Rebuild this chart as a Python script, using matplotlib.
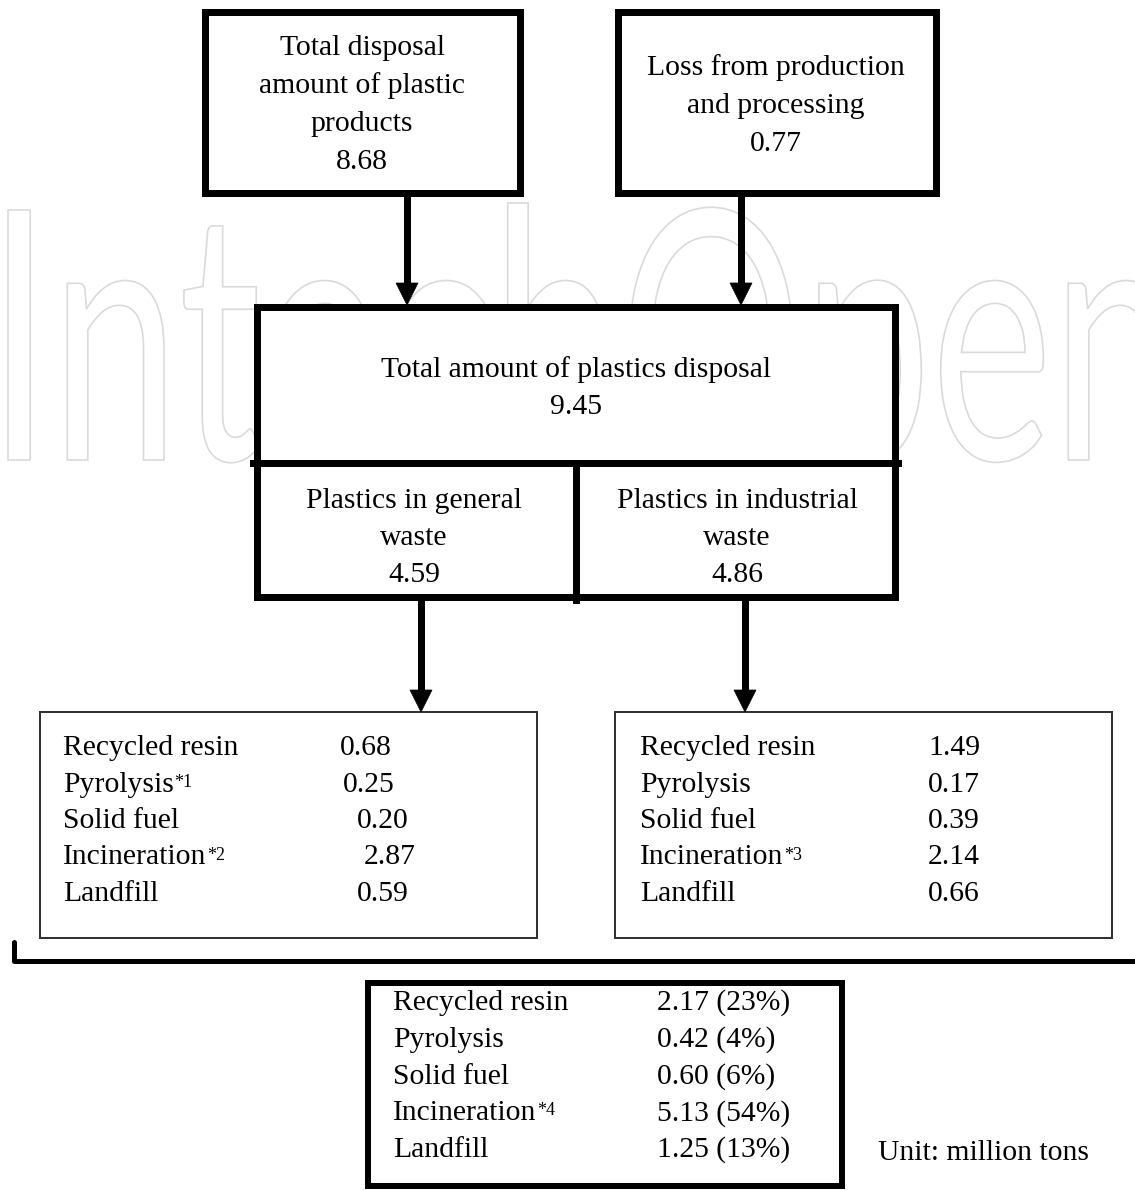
import matplotlib
matplotlib.use('Agg')
import matplotlib.pyplot as plt
from matplotlib.patches import Rectangle, Polygon, PathPatch
from matplotlib.textpath import TextPath
from matplotlib.font_manager import FontProperties
from matplotlib.transforms import Affine2D

plt.rcParams['font.family'] = ['Liberation Serif', 'DejaVu Serif']

#%% data
src_labels = [['Total disposal', 'amount of plastic', 'products'],
              ['Loss from production', 'and processing']]
src_vals = [8.68, 0.77]
total_label = 'Total amount of plastics disposal'
total_val = 9.45
split_labels = [['Plastics in general', 'waste'],
                ['Plastics in industrial', 'waste']]
split_vals = [4.59, 4.86]
items = ['Recycled resin', 'Pyrolysis', 'Solid fuel', 'Incineration', 'Landfill']
gen_notes = ['', '1', '', '2', '']
gen_vals = [0.68, 0.25, 0.20, 2.87, 0.59]
ind_notes = ['', '', '', '3', '']
ind_vals = [1.49, 0.17, 0.39, 2.14, 0.66]
sum_notes = ['', '', '', '4', '']
sum_vals = [2.17, 0.42, 0.60, 5.13, 1.25]
sum_pct = [23, 4, 6, 54, 13]
unit_text = 'Unit: million tons'
watermark = 'IntechOpen'

FS = 21.3
PX = 0.72  # points per pixel at dpi 100

fig = plt.figure(figsize=(11.35, 11.9), dpi=100)
ax = fig.add_axes([0, 0, 1, 1])
ax.set_xlim(0, 1135)
ax.set_ylim(1190, 0)
ax.axis('off')


def box(x0, y0, x1, y1, lw, ec='black'):
    ax.add_patch(Rectangle((x0, y0), x1 - x0, y1 - y0, fc='white', ec=ec,
                           lw=lw * PX, zorder=2))


def arrow(x, y0, y1):
    ax.plot([x, x], [y0, y1 - 20], color='black', lw=7 * PX, zorder=3,
            solid_capstyle='butt')
    ax.add_patch(Polygon([(x - 11, y1 - 22), (x + 11, y1 - 22), (x, y1)],
                         closed=True, fc='black', ec='black', lw=0.5, zorder=3))


def lines(x, baselines, texts):
    for y, t in zip(baselines, texts):
        ax.text(x, y, t, ha='center', va='baseline', fontsize=FS, zorder=4)


def table(x_lab, x_vals, y0, step, labels, notes, vals):
    for i, (lab, note, v) in enumerate(zip(labels, notes, vals)):
        y = y0 + i * step
        t = ax.text(x_lab, y, lab, ha='left', va='baseline', fontsize=FS, zorder=4)
        if note:
            ax.annotate('*' + note, xy=(1.0, 0.92), xycoords=t,
                        xytext=(0.5, 0), textcoords='offset points',
                        ha='left', va='top', fontsize=13, zorder=4)
        ax.text(x_vals[i], y, v, ha='left', va='baseline', fontsize=FS, zorder=4)


#%% watermark
fp = FontProperties(family='Lato')
tp = TextPath((0, 0), watermark, size=100, prop=fp)
cap = TextPath((0, 0), 'I', size=100, prop=fp).get_extents()
ext = tp.get_extents()
sx = (1165 - 8) / ext.width
sy = (460 - 210) / cap.height
tr = Affine2D().translate(-ext.x0, 0).scale(sx, -sy).translate(8, 460)
ax.add_patch(PathPatch(tr.transform_path(tp), fc='none', ec='#dadada',
                       lw=1.2, zorder=0))

#%% top boxes
box(204.5, 11.5, 519.5, 192.5, 7)
box(617.5, 11.5, 935.5, 192.5, 7)
lines(362, [55, 93, 131, 169], src_labels[0] + ['%.2f' % src_vals[0]])
lines(776, [75, 113, 151], src_labels[1] + ['%.2f' % src_vals[1]])

arrow(407, 196, 305)
arrow(741, 196, 305)

#%% central box
box(256.5, 306.5, 894.5, 596.5, 7)
ax.plot([253, 898], [463, 463], color='black', lw=7 * PX, zorder=3)
ax.plot([576, 576], [463, 600], color='black', lw=7 * PX, zorder=3)
lines(576, [377, 414], [total_label, '%.2f' % total_val])
lines(414, [508, 545, 582], split_labels[0] + ['%.2f' % split_vals[0]])
lines(737, [508, 545, 582], split_labels[1] + ['%.2f' % split_vals[1]])

arrow(421, 600, 712)
arrow(745, 600, 712)

#%% treatment boxes
box(40, 712, 537, 938, 2, ec='#333333')
box(615, 712, 1112, 938, 2, ec='#333333')
table(63, [340, 343, 357, 364, 357], 755, 36.5, items, gen_notes,
      ['%.2f' % v for v in gen_vals])
table(640, [928] * 5, 755, 36.5, items, ind_notes,
      ['%.2f' % v for v in ind_vals])

# bracket
ax.plot([14, 14, 1140], [942, 961, 961], color='black', lw=5 * PX,
        solid_joinstyle='round', solid_capstyle='round', zorder=3)

#%% summary box
box(368, 983, 842, 1186, 6)
table(393, [657] * 5, 1010, 36.75, items, sum_notes,
      ['%.2f (%d%%)' % (v, p) for v, p in zip(sum_vals, sum_pct)])
ax.text(878, 1160, unit_text, ha='left', va='baseline', fontsize=FS, zorder=4)

fig.savefig('out.png', dpi=100)
